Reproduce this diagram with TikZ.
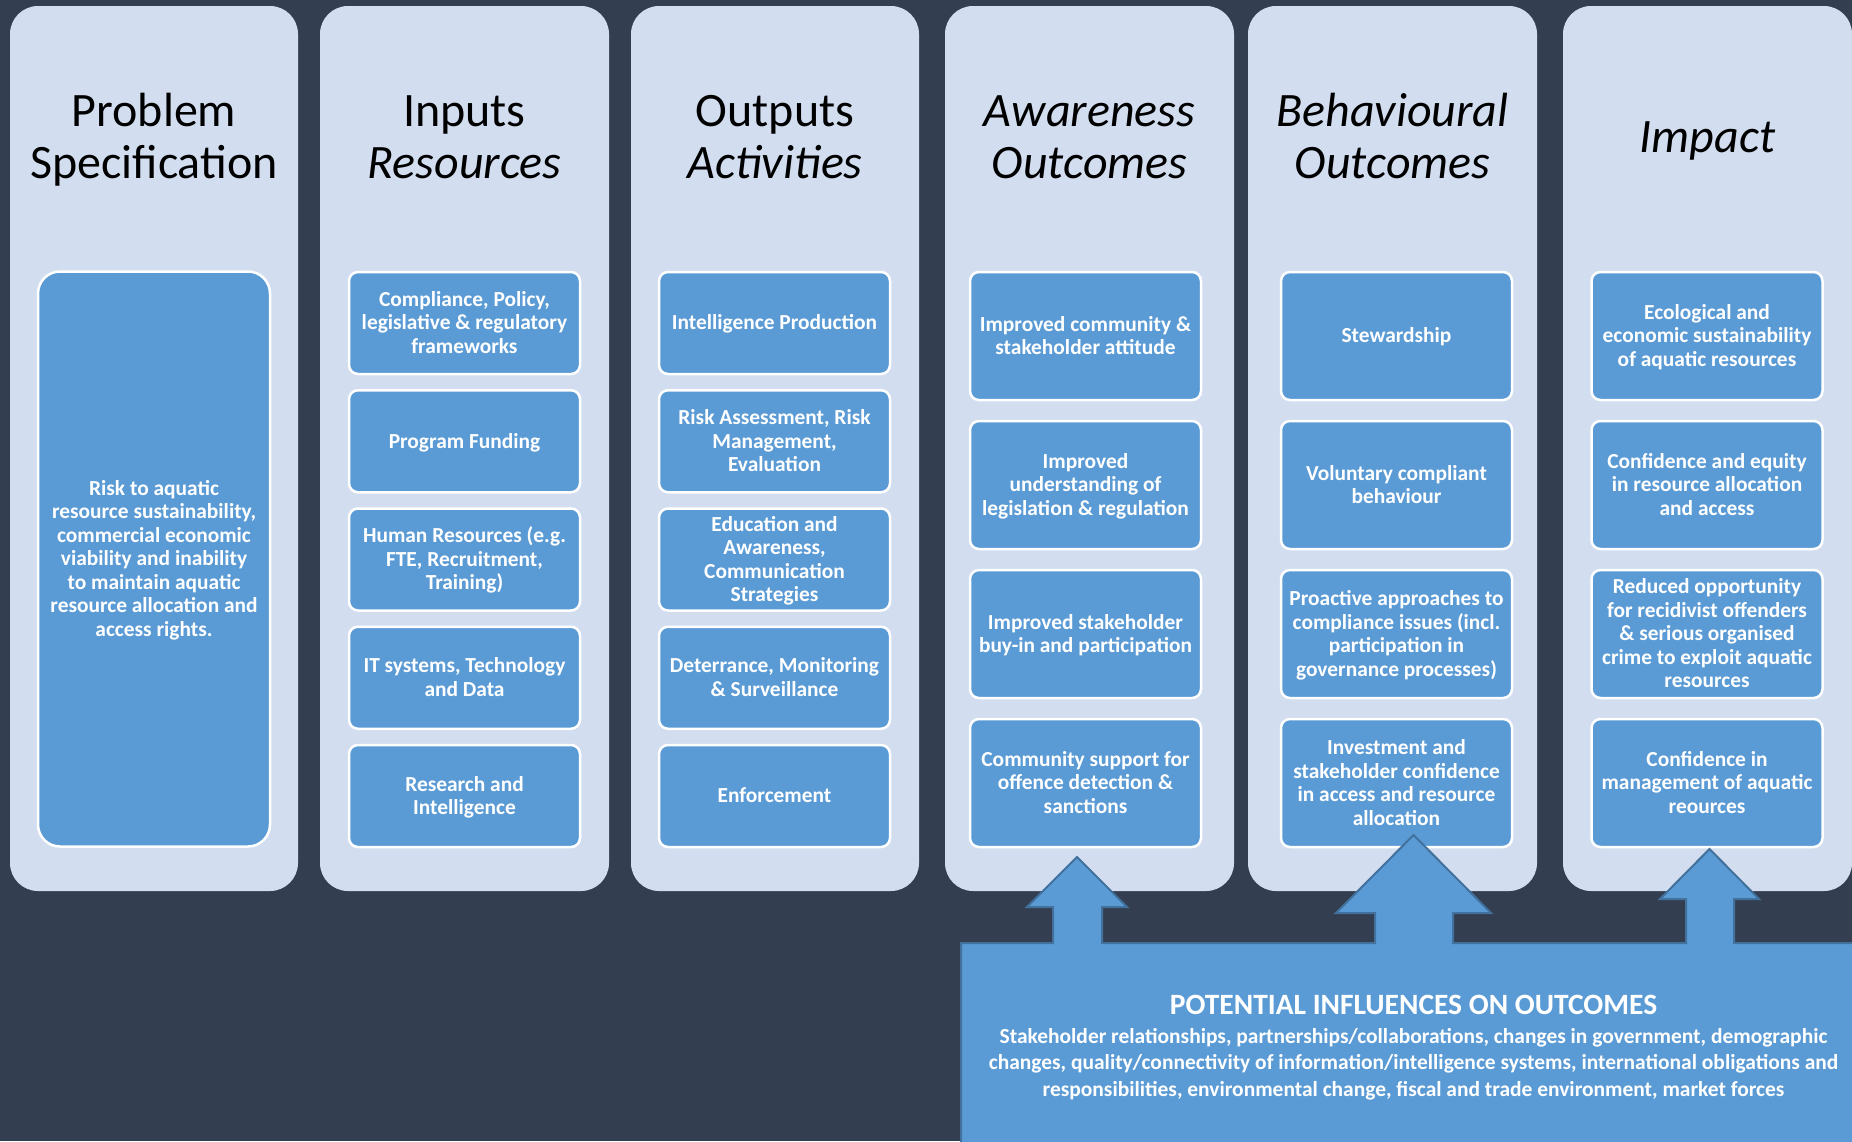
\documentclass[tikz,border=0pt]{standalone}
\usepackage{fontspec}
\setmainfont{Carlito}
\definecolor{bgdark}{HTML}{333F50}
\definecolor{colfill}{HTML}{D2DEEF}
\definecolor{boxfill}{HTML}{5B9BD5}
\definecolor{outl}{HTML}{41719C}
\newcommand\bxtop{\rule{0pt}{18.5pt}}
\newcommand\bxbot{\rule[-5pt]{0pt}{5pt}}
\newcommand\bx[1]{\bxtop#1\bxbot}
\newcommand\tttop{\rule{0pt}{41pt}}
\newcommand\ttbot{\rule[-11pt]{0pt}{11pt}}
\newcommand\ttl[1]{\tttop#1\ttbot}
\tikzset{
  colbox/.style={fill=colfill, rounded corners=28pt, minimum width=289pt, minimum height=885pt, inner sep=0pt},
  coltitle/.style={font=\fontsize{48}{52}\selectfont, align=center, inner sep=0pt, text=black},
  item/.style={fill=boxfill, draw=white, line width=2.5pt, rounded corners=9pt, minimum width=231pt, inner sep=0pt, align=center, text=white, font=\fontsize{21.4}{23.5}\selectfont\bfseries},
  itemfive/.style={item, minimum height=102pt},
  itemfour/.style={item, minimum height=128pt},
}
\begin{document}
\begin{tikzpicture}[x=1pt,y=-1pt]
\useasboundingbox (0,0) rectangle (1852,1141);
\fill[bgdark] (0,0) rectangle (1852,1141);

% columns
\node[colbox, minimum width=288pt] (c1) at (154,448.5) {};
\node[colbox] (c2) at (464.5,448.5) {};
\node[colbox, minimum width=288pt] (c3) at (775,448.5) {};
\node[colbox] (c4) at (1089.5,448.5) {};
\node[colbox] (c5) at (1392.5,448.5) {};
\node[colbox] (c6) at (1707.5,448.5) {};

% titles
\node[coltitle] (t1) at (154,137.5) {\ttl{Problem\\Specification}};
\node[coltitle] (t2) at (464.5,137.5) {\ttl{Inputs\\\textit{Resources}}};
\node[coltitle] (t3) at (775,137.5) {\ttl{Outputs\\\textit{Activities}}};
\node[coltitle] (t4) at (1089.5,137.5) {\ttl{\textit{Awareness}\\\textit{Outcomes}}};
\node[coltitle] (t5) at (1392.5,137.5) {\ttl{\textit{Behavioural}\\\textit{Outcomes}}};
\node[coltitle] (t6) at (1707.5,137.5) {\ttl{\textit{Impact}}};

% column 1
\node[item, minimum width=232pt, minimum height=575pt, rounded corners=22pt] (b11) at (154,559)
  {\bx{Risk to aquatic\\resource sustainability,\\commercial economic\\viability and inability\\to maintain aquatic\\resource allocation and\\access rights.}};

% column 2
\node[itemfive] (b21) at (464.5,323) {\bx{Compliance, Policy,\\legislative \& regulatory\\frameworks}};
\node[itemfive] (b22) at (464.5,441.25) {\bx{Program Funding}};
\node[itemfive] (b23) at (464.5,559.5) {\bx{Human Resources (e.g.\\FTE, Recruitment,\\Training)}};
\node[itemfive] (b24) at (464.5,677.75) {\bx{IT systems, Technology\\and Data}};
\node[itemfive] (b25) at (464.5,796) {\bx{Research and\\Intelligence}};

% column 3
\node[itemfive] (b31) at (774.5,323) {\bx{Intelligence Production}};
\node[itemfive] (b32) at (774.5,441.25) {\bx{Risk Assessment, Risk\\Management,\\Evaluation}};
\node[itemfive] (b33) at (774.5,559.5) {\bx{Education and\\Awareness,\\Communication\\Strategies}};
\node[itemfive] (b34) at (774.5,677.75) {\bx{Deterrance, Monitoring\\\& Surveillance}};
\node[itemfive] (b35) at (774.5,796) {\bx{Enforcement}};

% column 4
\node[itemfour] (b41) at (1085.5,336) {\bx{Improved community \&\\stakeholder attitude}};
\node[itemfour] (b42) at (1085.5,485) {\bx{Improved\\understanding of\\legislation \& regulation}};
\node[itemfour] (b43) at (1085.5,634) {\bx{Improved stakeholder\\buy-in and participation}};
\node[itemfour] (b44) at (1085.5,783) {\bx{Community support for\\offence detection \&\\sanctions}};

% column 5
\node[itemfour] (b51) at (1396.5,336) {\bx{Stewardship}};
\node[itemfour] (b52) at (1396.5,485) {\bx{Voluntary compliant\\behaviour}};
\node[itemfour] (b53) at (1396.5,634) {\bx{Proactive approaches to\\compliance issues (incl.\\participation in\\governance processes)}};
\node[itemfour] (b54) at (1396.5,783) {\bx{Investment and\\stakeholder confidence\\in access and resource\\allocation}};

% column 6
\node[itemfour] (b61) at (1707,336) {\bx{Ecological and\\economic sustainability\\of aquatic resources}};
\node[itemfour] (b62) at (1707,485) {\bx{Confidence and equity\\in resource allocation\\and access}};
\node[itemfour] (b63) at (1707,634) {\bx{Reduced opportunity\\for recidivist offenders\\\& serious organised\\crime to exploit aquatic\\resources}};
\node[itemfour] (b64) at (1707,783) {\bx{Confidence in\\management of aquatic\\reources}};

% influences box with arrows
\filldraw[fill=boxfill, draw=outl, line width=2pt, line join=miter]
  (961,943) -- (1053,943) -- (1053,907) -- (1027,907) -- (1077,857) -- (1127,907) -- (1102,907) -- (1102,943)
  -- (1375,943) -- (1375,913) -- (1336,913) -- (1413.5,835) -- (1491,913) -- (1453,913) -- (1453,943)
  -- (1686,943) -- (1686,899) -- (1660,899) -- (1709.5,849) -- (1759,899) -- (1734,899) -- (1734,943)
  -- (1875,943) -- (1875,1165) -- (961,1165) -- cycle;

\node[font=\fontsize{29.5}{34}\selectfont\bfseries, text=white, anchor=base, inner sep=0pt] (inftitle) at (1413.5,1014) {POTENTIAL INFLUENCES ON OUTCOMES};
\node[font=\fontsize{21.45}{26.6}\selectfont\bfseries, text=white, align=center, anchor=north, inner sep=0pt] (infbody) at (1413.5,1024.5)
  {\bxtop Stakeholder relationships, partnerships/collaborations, changes in government, demographic\\changes, quality/connectivity of information/intelligence systems, international obligations and\\responsibilities, environmental change, fiscal and trade environment, market forces};
\end{tikzpicture}
\end{document}
